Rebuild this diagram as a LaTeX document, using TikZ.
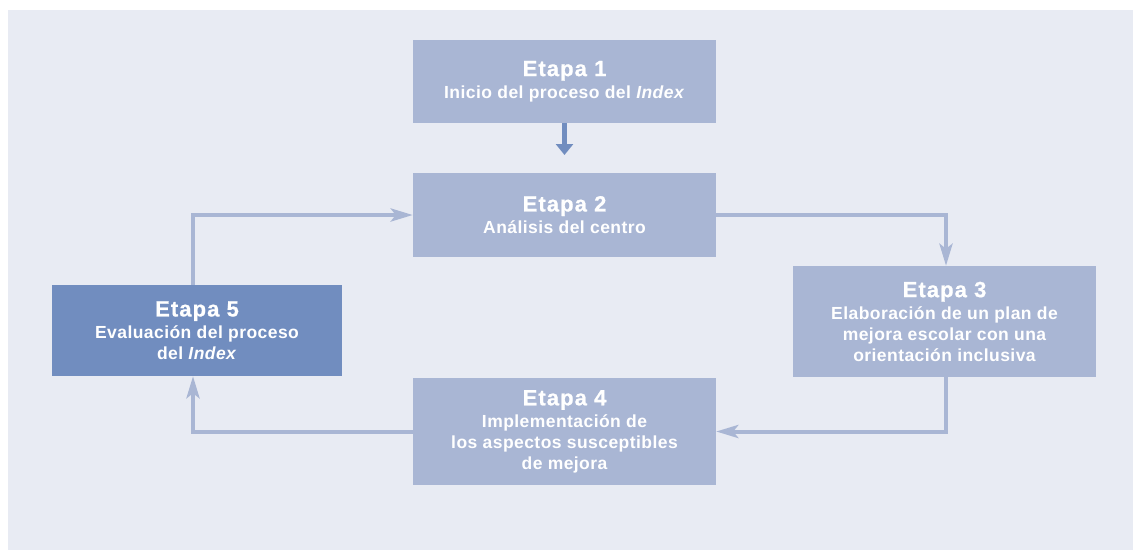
\documentclass[tikz,border=0pt]{standalone}
\usepackage{fontspec}
\setmainfont[LetterSpace=2.5]{Liberation Sans}
\newfontfamily\ttlfont[LetterSpace=5,BoldFeatures={FakeBold=0.8}]{Liberation Sans}
\usetikzlibrary{arrows.meta}
\definecolor{bgc}{HTML}{E8EBF3}
\definecolor{boxc}{HTML}{A9B6D4}
\definecolor{darkc}{HTML}{718DBF}
\tikzset{
  stage/.style={rectangle, fill=boxc, text=white, align=center, inner sep=0pt,
    font=\bfseries\fontsize{17.5}{20.8}\selectfont, minimum width=303pt},
  stagedark/.style={stage, fill=darkc, minimum width=290pt},
  conn/.style={draw=boxc, line width=4pt,
    -{Stealth[length=22pt,width=13pt,inset=5pt]}},
  conndark/.style={draw=darkc, line width=4.5pt,
    -{Triangle[length=11pt,width=17pt]}}
}
\newcommand{\ttl}[1]{{\ttlfont\bfseries\fontsize{22}{22}\selectfont #1}\\[1.5pt]}
\begin{document}
\begin{tikzpicture}[x=1pt,y=-1pt]
\useasboundingbox (0,0) rectangle (1133,550);
\fill[bgc] (8,10) rectangle (1133,550);
\node[stage, minimum height=83pt] (b1) at (564.5,81.5) {\ttl{Etapa 1}Inicio del proceso del \textit{Index}};
\node[stage, minimum height=84pt] (b2) at (564.5,215) {\ttl{Etapa 2}Análisis del centro};
\node[stage, minimum height=111pt] (b3) at (944.5,321.5) {\ttl{Etapa 3}Elaboración de un plan de\\mejora escolar con una\\orientación inclusiva};
\node[stage, minimum height=107pt] (b4) at (564.5,431.5) {\ttl{Etapa 4}Implementación de\\los aspectos susceptibles\\de mejora};
\node[stagedark, minimum height=91pt] (b5) at (197,330.5) {\ttl{Etapa 5}Evaluación del proceso\\del \textit{Index}};
\coordinate (t12) at (564.5,155);
\draw[conndark] (b1.south) -- (t12);
\draw[conn] (b2.east) -| ([xshift=1.5pt]b3.north);
\draw[conn] ([xshift=1.5pt]b3.south) |- (b4.east);
\draw[conn] (b4.west) -| ([xshift=-4pt]b5.south);
\draw[conn] ([xshift=-4pt]b5.north) |- (b2.west);
\end{tikzpicture}
\end{document}
